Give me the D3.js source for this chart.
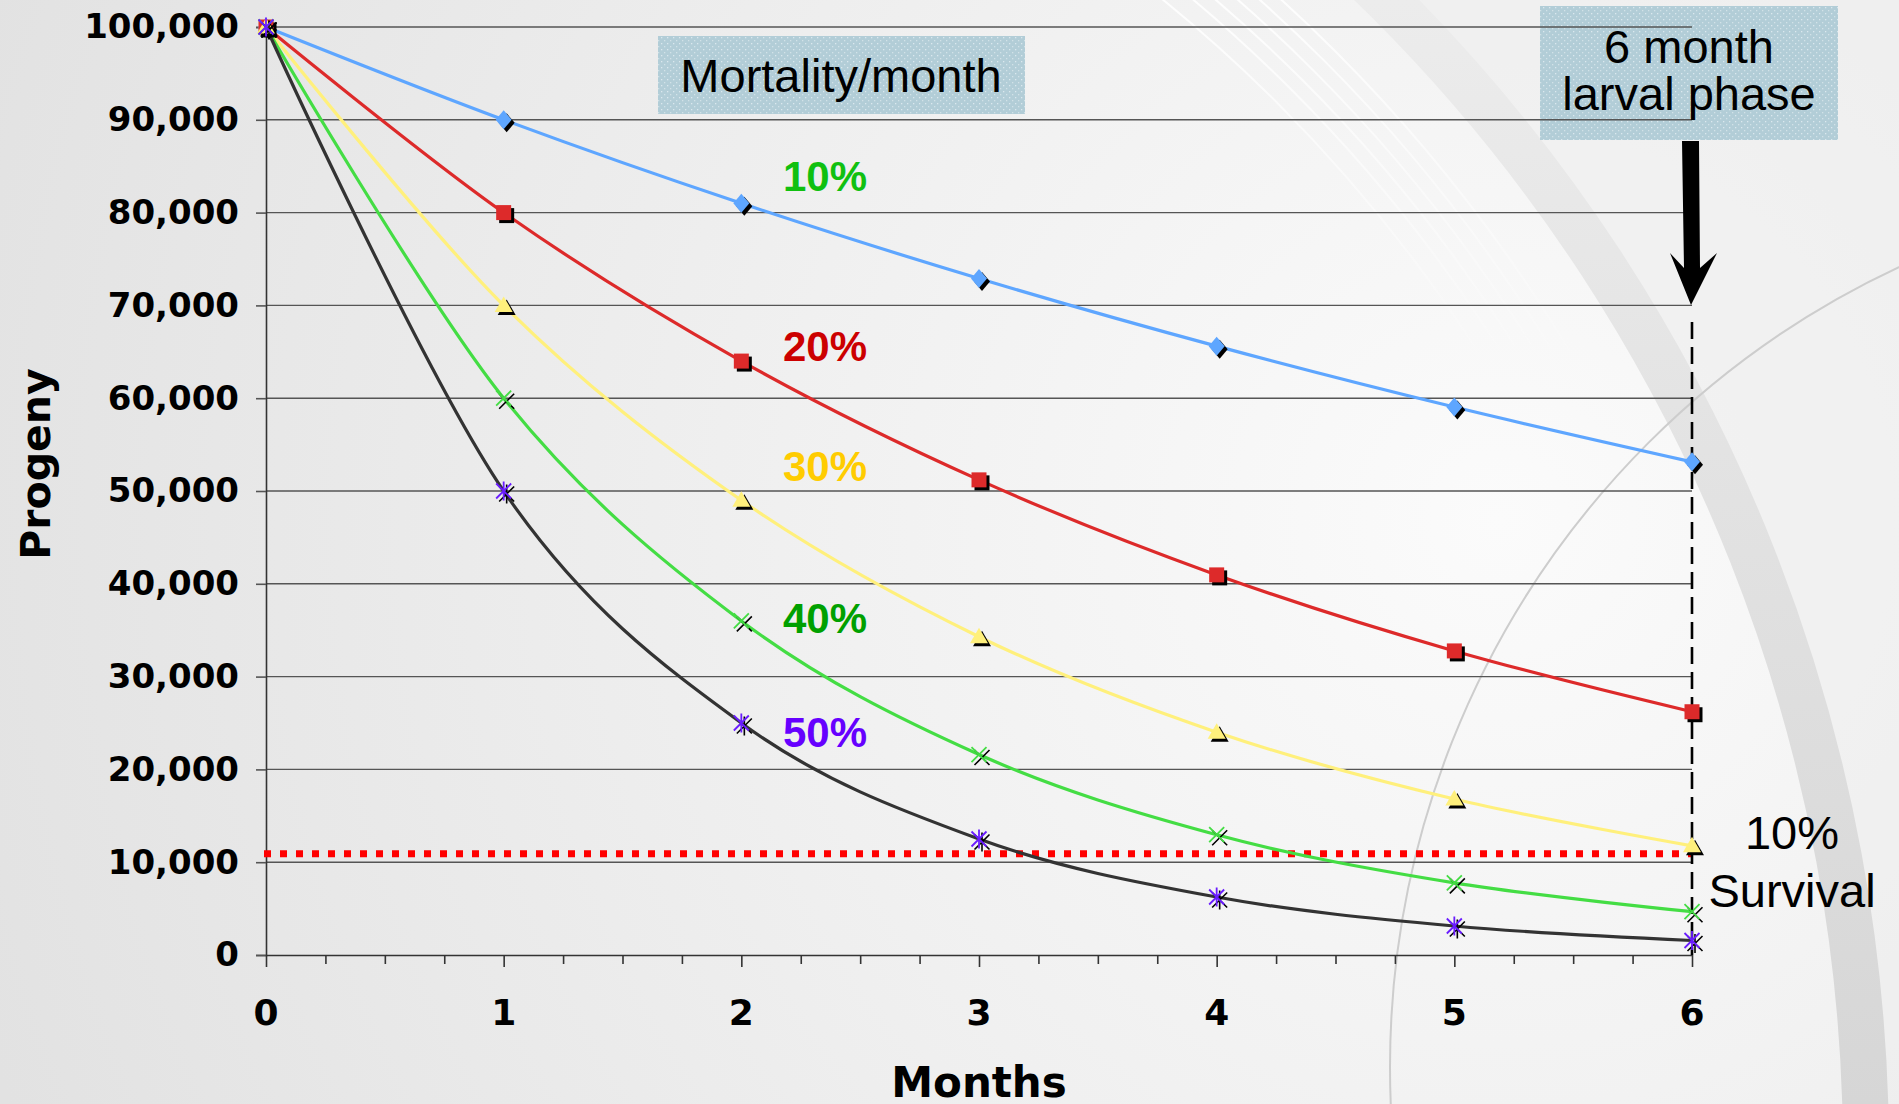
<!DOCTYPE html>
<html>
<head>
<meta charset="utf-8">
<script src="https://cdn.jsdelivr.net/npm/d3@7"></script>
<style>
  html, body { margin: 0; padding: 0; background: #ececec; }
  svg { display: block; }
</style>
</head>
<body>
<svg id="chart" width="1899" height="1104"></svg>
<script>
// Progeny remaining each month for five monthly mortality rates
const months = [0, 1, 2, 3, 4, 5, 6];
const progeny10 = [100000, 90000, 81000, 72900, 65610, 59049, 53144];
const progeny20 = [100000, 80000, 64000, 51200, 40960, 32768, 26214];
const progeny30 = [100000, 70000, 49000, 34300, 24010, 16807, 11765];
const progeny40 = [100000, 60000, 36000, 21600, 12960, 7776, 4666];
const progeny50 = [100000, 50000, 25000, 12500, 6250, 3125, 1563];
const seriesNames = ["10%", "20%", "30%", "40%", "50%"];
const labelValues = [82300, 64000, 51100, 34700, 22400];
const yTickValues = [0, 10000, 20000, 30000, 40000, 50000, 60000, 70000, 80000, 90000, 100000];
const xTickValues = [0, 1, 2, 3, 4, 5, 6];
const survivalLevel = 10900;
const larvalMonths = 6;

const seriesData = [progeny10, progeny20, progeny30, progeny40, progeny50];

// Visual styles per series
const lineColors = ["#5ea6ff", "#dd2a2a", "#fff07c", "#44dd44", "#333333"];
const markerColors = ["#5ea6ff", "#dd2a2a", "#fff07c", "#44dd44", "#6a1cff"];
const markerTypes = ["diamond", "square", "triangle", "times", "asterisk"];
const labelColors = ["#10c010", "#cc0000", "#ffcc00", "#00a000", "#6600ff"];

const W = 1899, H = 1104;
const svg = d3.select("#chart");
const defs = svg.append("defs");

// ---- background ----
const bg = defs.append("radialGradient").attr("id", "bgGrad")
  .attr("gradientUnits", "userSpaceOnUse")
  .attr("cx", 1500).attr("cy", 520).attr("r", 1600);
bg.append("stop").attr("offset", 0).attr("stop-color", "#fbfbfb");
bg.append("stop").attr("offset", 0.45).attr("stop-color", "#f0f0f0");
bg.append("stop").attr("offset", 1).attr("stop-color", "#e2e2e2");
svg.append("rect").attr("width", W).attr("height", H).attr("fill", "url(#bgGrad)");

const bandGrad = defs.append("linearGradient").attr("id", "bandGrad")
  .attr("gradientUnits", "userSpaceOnUse")
  .attr("x1", 0).attr("y1", 0).attr("x2", 0).attr("y2", H);
bandGrad.append("stop").attr("offset", 0).attr("stop-color", "#ececec");
bandGrad.append("stop").attr("offset", 1).attr("stop-color", "#d6d6d6");

const fadeGrad = defs.append("linearGradient").attr("id", "fadeGrad")
  .attr("gradientUnits", "userSpaceOnUse")
  .attr("x1", 0).attr("y1", 0).attr("x2", 0).attr("y2", 380);
fadeGrad.append("stop").attr("offset", 0).attr("stop-color", "#ffffff").attr("stop-opacity", 0.9);
fadeGrad.append("stop").attr("offset", 1).attr("stop-color", "#ffffff").attr("stop-opacity", 0);

// Region outside the big swoosh, slightly darker
svg.append("path")
  .attr("d", `M${W},0 L1400,0 A1650,1650 0 0 1 1885,${H} L${W},${H} Z`)
  .attr("fill", "#ececec").attr("opacity", 0.55);
// Big swoosh band
svg.append("circle").attr("cx", 239).attr("cy", 1153).attr("r", 1627)
  .attr("fill", "none").attr("stroke", "url(#bandGrad)").attr("stroke-width", 46);
// Faint streaks beside the band
[60, 72, 84, 96, 108, 124].forEach(d => {
  svg.append("circle").attr("cx", 239 - d * 0.2).attr("cy", 1153 + d * 0.1).attr("r", 1627 - d)
    .attr("fill", "none").attr("stroke", "url(#fadeGrad)").attr("stroke-width", 2);
});
// Thin crossing arc
svg.append("circle").attr("cx", 2273).attr("cy", 1067).attr("r", 883)
  .attr("fill", "none").attr("stroke", "#cdcdcd").attr("stroke-width", 2);

// ---- scales ----
const x = d3.scaleLinear().domain([0, 6]).range([266, 1692]);
const y = d3.scaleLinear().domain([0, 100000]).range([955, 27]);

// ---- annotation boxes (drawn under the grid) ----
const pat = defs.append("pattern").attr("id", "boxPat")
  .attr("patternUnits", "userSpaceOnUse").attr("width", 6).attr("height", 6);
pat.append("rect").attr("width", 6).attr("height", 6).attr("fill", "#b2cdd7");
pat.append("rect").attr("x", 1).attr("y", 1).attr("width", 1.3).attr("height", 1.3).attr("fill", "#dbe8ee");
pat.append("rect").attr("x", 4).attr("y", 4).attr("width", 1.3).attr("height", 1.3).attr("fill", "#d2e2e8");

svg.append("rect").attr("x", 658).attr("y", 36).attr("width", 367).attr("height", 78)
  .attr("fill", "url(#boxPat)");
svg.append("rect").attr("x", 1540).attr("y", 6).attr("width", 298).attr("height", 134)
  .attr("fill", "url(#boxPat)");

// ---- grid ----
svg.append("g").selectAll("line").data(yTickValues.filter(v => v > 0)).join("line")
  .attr("x1", x(0)).attr("x2", x(6))
  .attr("y1", d => y(d)).attr("y2", d => y(d))
  .attr("stroke", "#555").attr("stroke-width", 1.4);

// ---- axes ----
const yAxis = svg.append("g").attr("transform", `translate(${x(0)},0)`)
  .call(d3.axisLeft(y).tickValues(yTickValues).tickFormat(d3.format(",")).tickSize(10).tickPadding(17));
yAxis.select(".domain").attr("stroke", "#333").attr("stroke-width", 1.6);
yAxis.selectAll(".tick line").attr("stroke", "#555").attr("stroke-width", 1.6);
yAxis.selectAll(".tick text")
  .attr("font-family", "DejaVu Sans").attr("font-weight", "bold").attr("font-size", 34)
  .attr("fill", "#000");

// quarter-month minor ticks, longer ticks on whole months
const quarterTicks = d3.range(0, 6.001, 0.25);
const xAxis = svg.append("g").attr("transform", `translate(0,${y(0)})`)
  .call(d3.axisBottom(x).tickValues(quarterTicks).tickFormat("").tickSize(9).tickSizeOuter(0));
xAxis.select(".domain").attr("stroke", "#333").attr("stroke-width", 1.6);
xAxis.selectAll(".tick line").attr("stroke", "#333").attr("stroke-width", 1.6);
xAxis.selectAll(".tick line").filter(d => Number.isInteger(d)).attr("y2", 12);

svg.append("g").selectAll("text").data(xTickValues).join("text")
  .attr("x", d => x(d)).attr("y", 1025)
  .attr("text-anchor", "middle")
  .attr("font-family", "DejaVu Sans").attr("font-weight", "bold").attr("font-size", 36)
  .attr("fill", "#000").text(d => d);

// axis titles
svg.append("text").attr("x", x(3)).attr("y", 1097).attr("text-anchor", "middle")
  .attr("font-family", "DejaVu Sans").attr("font-weight", "bold").attr("font-size", 42)
  .text("Months");
svg.append("text").attr("transform", "translate(50,464) rotate(-90)").attr("text-anchor", "middle")
  .attr("font-family", "DejaVu Sans").attr("font-weight", "bold").attr("font-size", 41)
  .text("Progeny");

// ---- 10% survival level ----
svg.append("line")
  .attr("x1", x(0) - 2).attr("x2", x(6))
  .attr("y1", y(survivalLevel)).attr("y2", y(survivalLevel))
  .attr("stroke", "#ff0000").attr("stroke-width", 7).attr("stroke-dasharray", "7 9");

// ---- end of larval phase ----
svg.append("line")
  .attr("x1", x(larvalMonths)).attr("x2", x(larvalMonths))
  .attr("y1", 322).attr("y2", y(0))
  .attr("stroke", "#000").attr("stroke-width", 2.6).attr("stroke-dasharray", "17 8");

// ---- series lines ----
const line = d3.line()
  .x((d, i) => x(months[i]))
  .y(d => y(d))
  .curve(d3.curveCatmullRom.alpha(0));

svg.append("g").selectAll("path").data(seriesData).join("path")
  .attr("d", line)
  .attr("fill", "none")
  .attr("stroke", (d, i) => lineColors[i])
  .attr("stroke-width", 3.2);

// ---- markers ----
function markerPath(type) {
  switch (type) {
    case "diamond": return "M0,-9.5 L8,0 L0,9.5 L-8,0 Z";
    case "square": return "M-7.5,-7.5 H7.5 V7.5 H-7.5 Z";
    case "triangle": return "M0,-9 L9,6.5 L-9,6.5 Z";
    case "times": return "M-7.5,-7.5 L7.5,7.5 M7.5,-7.5 L-7.5,7.5";
    case "asterisk": return "M-7.5,-7.5 L7.5,7.5 M7.5,-7.5 L-7.5,7.5 M0,-9.5 L0,9.5";
  }
}
const filled = t => t === "diamond" || t === "square" || t === "triangle";

seriesData.forEach((vals, si) => {
  const g = svg.append("g");
  const type = markerTypes[si];
  const pts = vals.map((v, i) => [x(months[i]), y(v)]);
  // drop shadow
  g.selectAll("path.shadow").data(pts).join("path").attr("class", "shadow")
    .attr("transform", d => `translate(${d[0] + 3},${d[1] + 3})`)
    .attr("d", markerPath(type))
    .attr("fill", filled(type) ? "#000" : "none")
    .attr("stroke", filled(type) ? "none" : "#000")
    .attr("stroke-width", 1.6);
  g.selectAll("path.mark").data(pts).join("path").attr("class", "mark")
    .attr("transform", d => `translate(${d[0]},${d[1]})`)
    .attr("d", markerPath(type))
    .attr("fill", filled(type) ? markerColors[si] : "none")
    .attr("stroke", filled(type) ? "none" : markerColors[si])
    .attr("stroke-width", 1.8);
});

// ---- series labels ----
svg.append("g").selectAll("text").data(seriesNames).join("text")
  .attr("x", 825).attr("y", (d, i) => y(labelValues[i]))
  .attr("text-anchor", "middle")
  .attr("font-family", "Liberation Sans, Arial").attr("font-weight", "bold").attr("font-size", 42)
  .attr("fill", (d, i) => labelColors[i])
  .text(d => d);

// ---- annotation texts ----
const txt = (xp, yp, s, size) => svg.append("text").attr("x", xp).attr("y", yp)
  .attr("text-anchor", "middle").attr("font-family", "Liberation Sans, Arial")
  .attr("font-size", size).attr("fill", "#000").text(s);
txt(841, 92, "Mortality/month", 47);
// two-line box caption
const cap = svg.append("text").attr("text-anchor", "middle")
  .attr("font-family", "Liberation Sans, Arial").attr("font-size", 47).attr("fill", "#000");
cap.append("tspan").attr("x", 1689).attr("y", 63).text("6 month");
cap.append("tspan").attr("x", 1689).attr("y", 110).text("larval phase");
// two-line survival note
const note = svg.append("text").attr("text-anchor", "middle")
  .attr("font-family", "Liberation Sans, Arial").attr("font-size", 47).attr("fill", "#000");
note.append("tspan").attr("x", 1792).attr("y", 849).text("10%");
note.append("tspan").attr("x", 1792).attr("y", 907).text("Survival");

// ---- arrow from the larval-phase box ----
const ax = x(larvalMonths) - 1;
svg.append("path")
  .attr("d", `M${ax - 9},141 L${ax + 8},141 L${ax + 9},268 L${ax + 26},253 L${ax},305 L${ax - 21},253 L${ax - 7},268 Z`)
  .attr("fill", "#000");
</script>
</body>
</html>
